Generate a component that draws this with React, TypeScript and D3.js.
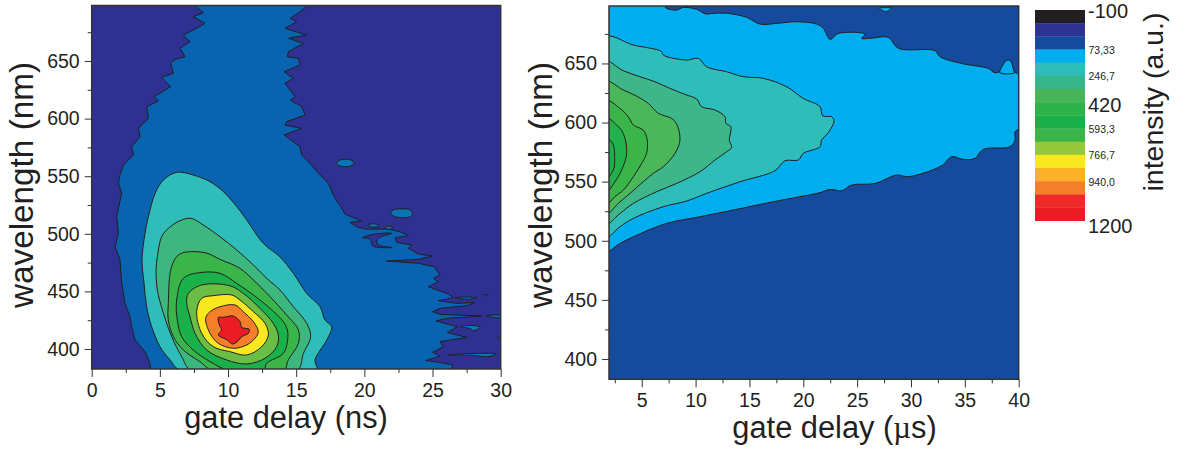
import React, { useEffect, useRef } from "react";
import * as d3 from "d3";

type Pt = [number, number];

const nsBlue: Pt[] = [
  [7.46, 699], [8.19, 692], [7.46, 688.5], [8.31, 682.7], [7.46, 676.9], [6.72, 672.6], [7.21, 666.8], [6.48, 661],
  [6.85, 653.8], [6.11, 651.4], [5.79, 648], [5.99, 639.3], [5.13, 635.8], [5.79, 627.7], [4.57, 619], [4.89, 615.3],
  [4.03, 610.4], [4.16, 600.2], [3.42, 591.5], [3.55, 584.3], [2.93, 575.6], [3.06, 568.4], [2.32, 559.7], [2.08, 551],
  [1.96, 543.8], [2.2, 535.1], [1.83, 514.9], [1.96, 500.4], [1.71, 488.8], [2.08, 477.3], [2.2, 457], [2.44, 439.6],
  [2.81, 428.1], [2.93, 419.4], [3.18, 407.8], [3.91, 397.7], [4.28, 387.6], [4.33, 381],
  [26.4, 381], [26.48, 386.1], [25.67, 388.1], [24.52, 389.9], [25.55, 393.9], [25.01, 397.1], [25.79, 402], [25.55, 406.4],
  [27.5, 410.1], [26.09, 414.2], [26.82, 419.4], [25.26, 424.3], [26.04, 426.6], [28.61, 428.6], [25.55, 430.1], [25.01, 432.4],
  [25.55, 435.3], [27.5, 437.6], [28.11, 440.5], [26.77, 439.6], [25.43, 442], [26.53, 444.6], [26.16, 447.7], [24.69, 454.1],
  [25.43, 458.4], [25.06, 461.3], [25.55, 464.2], [25.11, 471.5], [23.96, 474.4], [21.64, 476.4], [23.96, 477.8], [24.95, 480.7],
  [23.96, 482.5], [23.23, 487.4], [23.47, 490.3], [22.37, 492.6], [22.25, 496.6], [23.23, 498.4], [22.62, 501.8], [21.76, 504.1],
  [20.05, 504.1], [19.44, 506.2], [18.95, 509.9], [19.8, 511.1], [19.19, 514], [18.58, 517.2], [18.21, 524.7], [18.09, 526.4],
  [17.73, 533.7], [17.36, 543.8], [16.63, 552.5], [16.01, 561.2], [15.4, 568.4], [15.28, 575.6], [14.11, 585.8], [15.4, 591.5],
  [14.18, 594.4], [14.3, 597.3], [15.65, 603.1], [15.4, 610.4], [14.55, 616.1], [14.91, 619], [14.18, 630.6], [14.79, 634.9],
  [14.11, 640.7], [15.28, 646.5], [15.16, 652.3], [14.35, 653.8], [14.43, 658.1], [15.53, 665.3], [14.43, 669.7], [15.77, 672.6],
  [14.18, 678.4], [15.04, 684.1], [14.55, 687], [15.28, 692.8], [15.89, 699],
];
const nsBlueIslands: Pt[][] = [
  [[17.97, 561.7], [18.2, 564.1], [19, 564.1], [19.24, 561.7], [19, 558.9], [18.2, 558.9]],
  [[21.93, 518.5], [22.2, 521], [23.3, 521], [23.52, 518.5], [23.4, 515], [22.2, 515]],
  [[26.16, 394.8], [28, 396.2], [29.71, 395.7], [29, 393.3], [28, 394.5]],
  [[27.02, 419.4], [27.87, 420.5], [28.48, 419.1], [28, 415.9], [27.75, 417.7]],
  [[29.75, 409.8], [30.2, 411.3], [30.2, 408.4]],
  [[26.65, 444.6], [27.63, 445], [28.24, 444.6], [27.63, 443.1]],
  [[28.73, 446.9], [29.1, 447.4], [28.9, 446]],
  [[28.9, 428.9], [30.2, 428.9], [30.2, 427.4], [29.4, 427.6]],
  [[20.24, 507.6], [20.66, 508.8], [21.1, 507], [20.66, 505.6]],
  [[21.51, 505.6], [21.76, 506.5], [22.13, 505.3], [21.76, 503.9]],
];
const nsNavyIslands: Pt[][] = [
  [[19.85, 496.6], [20.66, 499.5], [22, 500.4], [21.27, 497.5], [20.9, 494.6], [21.03, 490.3], [22, 488.2], [21.03, 488.2], [20.59, 489.7], [20.41, 495.5]],
];
const nsLevelA: Pt[] = [
  [6.55, 381], [5.75, 390.5], [5.01, 402], [4.4, 419.4], [4.03, 436.7], [3.84, 457], [3.69, 477.3], [3.91, 500.4], [4.16, 514.9],
  [4.65, 535.1], [5.26, 546.7], [6.23, 553.4], [7.46, 551], [8.68, 545.3], [9.66, 536.6], [10.64, 523.6], [11.37, 512],
  [12.59, 491.7], [13.81, 480], [14.79, 465.7], [15.77, 448.3], [16.75, 436.7], [17.11, 425.2], [17.6, 419.4], [17.24, 407.8],
  [16.38, 390.5], [16.5, 381],
];
const nsLevelB: Pt[] = [
  [7.33, 381], [6.6, 393.3], [5.87, 410.7], [5.26, 431], [4.82, 451.2], [4.72, 468.6], [4.82, 480.2], [5.13, 497.5], [5.62, 504.7],
  [6.48, 511.4], [7.29, 513.4], [8.19, 507.6], [9.41, 497.5], [10.64, 485.9], [11.86, 472.9], [12.84, 461.3], [13.81, 451.2],
  [14.79, 436.7], [15.77, 422.3], [16.06, 410.7], [15.53, 396.2], [15.04, 381],
];
const nsLevelC: Pt[] = [
  [8.9, 381], [7.94, 389], [6.72, 399.1], [5.99, 410.7], [5.62, 425.2], [5.62, 439.6], [5.86, 471.5], [6.47, 482.5], [8.31, 483.6],
  [9.41, 477.8], [10.88, 470], [11.86, 459.9], [13.08, 445.4], [14.3, 429.5], [15.16, 416.5], [15.16, 404.9], [14.42, 390.5], [14.06, 381],
];
const nsLevelD: Pt[] = [
  [10.14, 381], [8.68, 389], [7.45, 399.1], [6.6, 410.7], [6.28, 425.2], [6.23, 442.5], [6.72, 461.3], [7.94, 466.3], [9.41, 465.7],
  [10.63, 457], [11.86, 446.9], [13.08, 435.3], [14.06, 423.7], [14.35, 416.5], [14.37, 407.8], [14.06, 396.2], [12.83, 387.6], [12.59, 381],
];
const nsLevelE: Pt[] = [
  [6.97, 439.6], [7.21, 428.1], [7.58, 413.6], [8.43, 399.1], [9.9, 390.5], [11.37, 387], [12.71, 391.9], [13.57, 402], [13.69, 412.2],
  [13.32, 422.3], [12.34, 435.3], [11.12, 448.3], [10.14, 454.9], [8.07, 455.6], [7.09, 448.3],
];
const nsLevelF: Pt[] = [
  [7.7, 432.4], [8.07, 444], [8.92, 446.3], [10.27, 446.9], [10.88, 442.5], [11.86, 432.4], [12.71, 422.3], [12.96, 412.2],
  [12.47, 402], [11.37, 394.8], [10.14, 397.7], [8.92, 402], [8.07, 413.6],
];
const nsLevelG: Pt[] = [
  [8.36, 426.6], [8.68, 432.4], [9.41, 436.7], [10.51, 438.2], [11.12, 432.4], [11.86, 423.7], [12.22, 415], [11.98, 409.3],
  [11.37, 403.5], [10.39, 400.6], [9.29, 404.9], [8.68, 413.6],
];
const nsLevelH: Pt[] = [
  [9.29, 427.5], [9.65, 427.5], [10.39, 428.6], [10.88, 423.7], [11, 418.8], [11.56, 417.1], [11.49, 413.6], [11, 410.7],
  [10.75, 407.2], [10.34, 404.3], [9.95, 407.8], [9.29, 412.2], [9.53, 416.5], [9.36, 420.8],
];

const usLevel1: Pt[] = [
  [1.5, 700], [6.85, 700], [7.31, 696.6], [8.24, 695.2], [8.86, 697.4], [10.1, 695.8], [10.96, 691.8], [11.49, 692.3], [13.04, 692.3],
  [14.74, 689], [15.98, 683.3], [17.52, 683.9], [19.38, 685.3], [21.24, 683.3], [21.86, 679.7], [22.48, 670.4], [23.25, 675.4],
  [25.73, 674.8], [25.42, 671.2], [26.19, 671.2], [27.9, 672], [28.82, 662.8], [32.23, 660.8], [32.69, 655.7], [34.7, 650],
  [37.18, 645.8], [37.8, 642.1], [38.88, 644.4], [40.2, 638.7], [40.2, 596.5], [39.66, 592.2], [39.66, 585.2], [39.19, 579.6],
  [36.71, 577.3], [35.94, 569.7], [34.86, 568.8], [33.78, 571.1], [32.85, 563.5], [29.75, 554.2], [28.67, 555.6], [26.66, 548.5],
  [24.49, 547.1], [23.56, 542.3], [22.48, 543.4], [21.55, 540.7], [19.69, 537.3], [17.21, 533], [13.5, 526], [10.4, 520.3],
  [7.31, 514.7], [4.22, 503.4], [2.98, 497.8], [1.5, 490.5],
];
const usBell: Pt[] = [[38.26, 642.2], [38.57, 649.3], [38.88, 652.6], [39.25, 652.1], [39.56, 643.6], [39.66, 642.2]];
const usTopNick: Pt[] = [[27.06, 696.7], [28.2, 696.7], [27.65, 693.9]];
const usLevel2: Pt[] = [
  [1.5, 672], [4.22, 665.6], [6.85, 660], [7, 657.1], [9.17, 652.9], [10.25, 654.3], [11.02, 647.2], [12.88, 643], [14.43, 638.8],
  [16.29, 637.4], [18.45, 630.3], [20, 620.4], [21.55, 613.4], [21.8, 605.7], [22.63, 604.9], [22.85, 601.5], [22.32, 591.4],
  [21.7, 585.2], [21.55, 579.6], [20, 573.9], [19.54, 568.3], [18.3, 567.7], [17.37, 559.3], [14.12, 549.9], [11.02, 540.1],
  [9.17, 533.6], [7, 528.8], [4.22, 518.9], [2.98, 511.9], [1.5, 502],
];
const usLevel3: Pt[] = [
  [1.5, 652], [3.29, 643.8], [4.83, 638.8], [6.23, 634.5], [7.62, 628.9], [9.01, 623.8], [10.1, 619.9], [10.56, 613.4], [11.8, 610.6],
  [12.73, 604.9], [12.82, 599.3], [13.28, 596.5], [13.13, 585.2], [13.35, 579], [12.88, 575.3], [11.8, 568.3], [10.41, 558.4],
  [8.24, 548.5], [6.38, 541.5], [4.22, 531.6], [2.98, 523.1], [1.5, 513],
];
const usLevel4: Pt[] = [
  [1.5, 635], [3.29, 627.5], [4.52, 622.4], [5.61, 616.2], [6.54, 607.8], [7.77, 603.5], [8.24, 598.7], [8.55, 585.2], [8.08, 573.9],
  [7, 562.6], [6.07, 557], [5.14, 549.9], [3.91, 540.1], [2.82, 531.6], [1.5, 521],
];
const usLevel5: Pt[] = [
  [1.5, 619], [2.98, 612], [3.75, 604.9], [4.22, 597.9], [5.14, 593.6], [5.51, 585.2], [5.45, 573.9], [4.99, 565.4], [4.22, 554.2],
  [3.29, 542.9], [2.51, 537.3], [1.5, 529],
];
const usLevel6: Pt[] = [
  [1.5, 605], [2.67, 597.9], [3.29, 590.8], [3.6, 573.9], [3.13, 559.8], [2.51, 549.9], [1.5, 539],
];
const usLevel7: Pt[] = [
  [1.5, 588], [2.3, 582.4], [2.48, 571.1], [2.36, 559.8], [1.5, 551],
];

const nsLayers: [Pt[], string][] = [
  [nsBlue, "#0863b0"],
  ...nsBlueIslands.map((p): [Pt[], string] => [p, "#0a74b5"]),
  ...nsNavyIslands.map((p): [Pt[], string] => [p, "#2e3192"]),
  [nsLevelA, "#2ebdb8"],
  [nsLevelB, "#3db77d"],
  [nsLevelC, "#39b54a"],
  [nsLevelD, "#1ab14b"],
  [nsLevelE, "#6abd45"],
  [nsLevelF, "#f9e81f"],
  [nsLevelG, "#f57e2b"],
  [nsLevelH, "#ed1c24"],
];
const usLayers: [Pt[], string][] = [
  [usLevel1, "#00aeef"],
  [usBell, "#00aeef"],
  [usTopNick, "#00aeef"],
  [usLevel2, "#2ebdb8"],
  [usLevel3, "#3db78a"],
  [usLevel4, "#4ab859"],
  [usLevel5, "#39b54a"],
  [usLevel6, "#22b24b"],
  [usLevel7, "#1ab14b"],
];

const legendColors = [
  "#231f20", "#2e3192", "#164a9c", "#00aeef", "#2ebdb8", "#36b68a", "#47b45a", "#2db34a",
  "#1ab14b", "#3bb44a", "#95c83d", "#f9e81f", "#fbb026", "#f57e2b", "#f02a29", "#ed1c24",
];
const legendBig: [string, number][] = [["-100", 18], ["420", 112], ["1200", 233]];
const legendSmall: [string, number][] = [
  ["73,33", 54], ["246,7", 80], ["593,3", 133], ["766,7", 159], ["940,0", 186],
];

const nsMajorX = d3.range(0, 31, 5);
const nsMinorX = d3.range(2.5, 30, 5);
const usMajorX = d3.range(5, 41, 5);
const usMinorX = d3.range(2.5, 40, 5);
const majorY = d3.range(400, 651, 50);
const minorY = d3.range(425, 676, 50);

const FONT = "'Liberation Sans', Arial, sans-serif";
const INK = "#231f20";

const Panel = ({ x, y, bg, layers, majorX, minorX, xDomain, yDomain }: any) => {
  const ref = useRef<SVGGElement>(null);

  useEffect(() => {
    const g = d3.select(ref.current);
    g.selectAll("*").remove();

    const scaleX = d3.scaleLinear().domain(xDomain).range(x);
    const scaleY = d3.scaleLinear().domain(yDomain).range(y);
    const lineWith = (curve: any) =>
      d3
        .line<Pt>()
        .x((d) => scaleX(d[0]))
        .y((d) => scaleY(d[1]))
        .curve(curve);
    const jagged = lineWith(d3.curveLinearClosed);
    // the inner contours are rounder in the picture
    const smooth = lineWith(d3.curveCatmullRomClosed.alpha(0.5));

    const id = `clip-${Math.round(x[0])}`;
    g.append("clipPath")
      .attr("id", id)
      .append("rect")
      .attr("x", x[0])
      .attr("y", y[1])
      .attr("width", x[1] - x[0])
      .attr("height", y[0] - y[1]);

    const plot = g.append("g").attr("clip-path", `url(#${id})`);
    plot
      .append("rect")
      .attr("x", x[0])
      .attr("y", y[1])
      .attr("width", x[1] - x[0])
      .attr("height", y[0] - y[1])
      .attr("fill", bg);
    plot
      .selectAll("path")
      .data(layers as [Pt[], string][])
      .join("path")
      .attr("d", (d) => (d[0] === nsBlue ? jagged(d[0]) : smooth(d[0])))
      .attr("fill", (d) => d[1])
      .attr("stroke", INK)
      .attr("stroke-width", 1)
      .attr("stroke-linejoin", "round");

    g.append("rect")
      .attr("x", x[0])
      .attr("y", y[1])
      .attr("width", x[1] - x[0])
      .attr("height", y[0] - y[1])
      .attr("fill", "none")
      .attr("stroke", "#333")
      .attr("stroke-width", 1.5);

    const bottom = g.append("g").attr("transform", `translate(0,${y[0]})`);
    bottom.append("g").call(d3.axisBottom(scaleX).tickValues(minorX).tickSize(4).tickFormat(() => ""));
    bottom.append("g").call(d3.axisBottom(scaleX).tickValues(majorX).tickSize(8).tickPadding(6).tickFormat(d3.format("d")));
    const left = g.append("g").attr("transform", `translate(${x[0]},0)`);
    left.append("g").call(d3.axisLeft(scaleY).tickValues(minorY).tickSize(4).tickFormat(() => ""));
    left.append("g").call(d3.axisLeft(scaleY).tickValues(majorY).tickSize(7).tickPadding(5).tickFormat(d3.format("d")));

    g.selectAll(".domain").remove();
    g.selectAll(".tick line").attr("stroke", "#333").attr("stroke-width", 1);
    g.selectAll(".tick text").attr("fill", INK).style("font-family", FONT).style("font-size", "19.5px");
  }, []);

  return <g ref={ref} />;
};

const Legend = () => {
  const ref = useRef<SVGGElement>(null);

  useEffect(() => {
    const g = d3.select(ref.current);
    g.selectAll("*").remove();
    const band = d3.scaleBand<number>().domain(d3.range(legendColors.length)).range([10, 220.7]);
    g.selectAll("rect")
      .data(legendColors)
      .join("rect")
      .attr("x", 1035)
      .attr("width", 50)
      .attr("y", (_, i) => band(i) as number)
      .attr("height", band.bandwidth() + 0.3)
      .attr("fill", (d) => d);
  }, []);

  return <g ref={ref} />;
};

export default function App() {
  const titleStyle = { fontFamily: FONT, fill: INK };
  return (
    <svg width={1183} height={450} style={{ position: "absolute", left: 0, top: 0, background: "#fff" }}>
      <Panel
        x={[91.7, 500.7]}
        y={[369, 5.5]}
        xDomain={[0, 30]}
        yDomain={[382.64, 698.2]}
        bg="#2e3192"
        layers={nsLayers}
        majorX={nsMajorX}
        minorX={nsMinorX}
      />
      <Panel
        x={[609, 1018.7]}
        y={[379.3, 6]}
        xDomain={[1.96, 40]}
        yDomain={[382.8, 698.6]}
        bg="#164a9c"
        layers={usLayers}
        majorX={usMajorX}
        minorX={usMinorX}
      />
      <Legend />
      {legendBig.map(([t, b]) => (
        <text key={t} x={1088} y={b} fontSize={20} style={titleStyle}>
          {t}
        </text>
      ))}
      {legendSmall.map(([t, b]) => (
        <text key={t} x={1088.5} y={b} fontSize={10.5} style={titleStyle}>
          {t}
        </text>
      ))}
      <text x={286} y={428} textAnchor="middle" fontSize={30.8} style={titleStyle}>
        gate delay (ns)
      </text>
      <text x={834.5} y={438} textAnchor="middle" fontSize={30.8} style={titleStyle}>
        gate delay (<tspan style={{ fontFamily: "'Liberation Serif', serif" }}>µ</tspan>s)
      </text>
      <text transform="translate(33,185) rotate(-90)" textAnchor="middle" fontSize={33.3} style={titleStyle}>
        wavelength (nm)
      </text>
      <text transform="translate(552,185) rotate(-90)" textAnchor="middle" fontSize={33.3} style={titleStyle}>
        wavelength (nm)
      </text>
      <text transform="translate(1163,102) rotate(-90)" textAnchor="middle" fontSize={28.5} style={titleStyle}>
        intensity (a.u.)
      </text>
    </svg>
  );
}
